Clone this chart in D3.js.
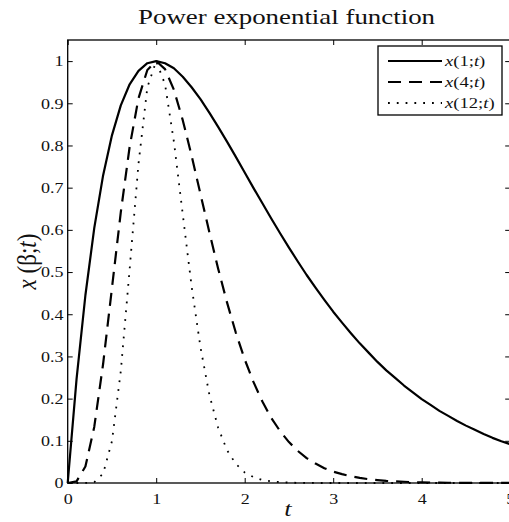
<!DOCTYPE html>
<html>
<head>
<meta charset="utf-8">
<script src="https://cdn.jsdelivr.net/npm/d3@7"></script>
<style>
  body { margin: 0; background: #fff; }
  svg { display: block; font-family: "Liberation Serif", "Times New Roman", serif; }
  .axis path, .axis line { stroke: #000; }
  .axis text { font-size: 15px; fill: #111; font-family: "Liberation Serif", serif; }
</style>
</head>
<body>
<div id="chart"></div>
<script>
// sample times
const tVals = [0, 0.1, 0.2, 0.3, 0.4, 0.5, 0.6, 0.7, 0.8, 0.9, 1.0,
  1.1, 1.2, 1.3, 1.4, 1.5, 1.6, 1.7, 1.8, 1.9, 2.0,
  2.1, 2.2, 2.3, 2.4, 2.5, 2.6, 2.7, 2.8, 2.9, 3.0,
  3.1, 3.2, 3.3, 3.4, 3.5, 3.6, 3.7, 3.8, 3.9, 4.0,
  4.1, 4.2, 4.3, 4.4, 4.5, 4.6, 4.7, 4.8, 4.9, 5.0];

// x(1;t)
const beta1 = [0, 0.246, 0.445, 0.604, 0.729, 0.824, 0.895, 0.945, 0.977, 0.995, 1.0,
  0.995, 0.983, 0.963, 0.938, 0.910, 0.878, 0.844, 0.809, 0.773, 0.736,
  0.699, 0.663, 0.627, 0.592, 0.558, 0.525, 0.493, 0.463, 0.434, 0.406,
  0.380, 0.355, 0.331, 0.309, 0.287, 0.267, 0.249, 0.231, 0.215, 0.199,
  0.185, 0.171, 0.159, 0.147, 0.136, 0.126, 0.116, 0.107, 0.099, 0.092];

// x(4;t)
const beta4 = [0, 0.004, 0.039, 0.133, 0.282, 0.462, 0.642, 0.797, 0.912, 0.979, 1.0,
  0.981, 0.932, 0.860, 0.776, 0.685, 0.595, 0.508, 0.428, 0.356, 0.293,
  0.239, 0.193, 0.154, 0.123, 0.097, 0.076, 0.059, 0.046, 0.035, 0.027,
  0.021, 0.016, 0.012, 0.009, 0.007, 0.005, 0.004, 0.003, 0.002, 0.0016,
  0.0012, 0.0009, 0.0006, 0.0005, 0.0003, 0.0002, 0.0002, 0.0001, 0.0001, 0.0001];

// x(12;t)
const beta12 = [0, 0, 0.0001, 0.002, 0.022, 0.099, 0.265, 0.507, 0.757, 0.938, 1.0,
  0.945, 0.809, 0.637, 0.466, 0.322, 0.210, 0.131, 0.078, 0.045, 0.025,
  0.014, 0.007, 0.004, 0.002, 0.001, 0.0004, 0.0002, 0.0001, 0, 0,
  0, 0, 0, 0, 0, 0, 0, 0, 0, 0,
  0, 0, 0, 0, 0, 0, 0, 0, 0, 0];

const xTicks = [0, 1, 2, 3, 4, 5];
const yTicks = [0, 0.1, 0.2, 0.3, 0.4, 0.5, 0.6, 0.7, 0.8, 0.9, 1];

const seriesList = [
  {name: '1', values: beta1, dash: null, width: 2.2},
  {name: '4', values: beta4, dash: '13,8', width: 2.2},
  {name: '12', values: beta12, dash: '1.8,7', width: 1.8}
];

// the reference figure is stretched sideways a little, so text is too
const stretch = 1.2;

const W = 509, H = 522;
const margin = {top: 40, right: -1.2, bottom: 39, left: 67.7};
const width = W - margin.left - margin.right,
  height = H - margin.top - margin.bottom;

const x = d3.scaleLinear().domain([0, 5]).range([0, width]);
const y = d3.scaleLinear().domain([0, 1.05]).range([height, 0]);

const svgTop = d3.select('#chart').append('svg')
  .attr('width', W)
  .attr('height', H);

const svg = svgTop.append('g')
  .attr('transform', `translate(${margin.left},${margin.top})`);

// axes box
svg.append('rect')
  .attr('width', width)
  .attr('height', height)
  .attr('fill', 'none')
  .attr('stroke', '#000')
  .attr('stroke-width', 1.3);

svg.append('g')
  .attr('class', 'axis')
  .attr('transform', `translate(0,${height})`)
  .call(d3.axisBottom(x).tickValues(xTicks).tickSize(-5).tickPadding(10).tickFormat(d3.format('d')))
  .call(g => g.select('.domain').remove())
  .call(g => g.selectAll('.tick text').attr('transform', `scale(${stretch},1)`));

svg.append('g')
  .attr('class', 'axis')
  .call(d3.axisTop(x).tickValues(xTicks).tickSize(-5).tickFormat(''))
  .call(g => g.select('.domain').remove());

svg.append('g')
  .attr('class', 'axis')
  .call(d3.axisLeft(y).tickValues(yTicks).tickSize(-5).tickPadding(3.5).tickFormat(d => d3.format('')(d)))
  .call(g => g.select('.domain').remove())
  .call(g => g.selectAll('.tick text').attr('transform', `scale(${stretch},1)`));

svg.append('g')
  .attr('class', 'axis')
  .attr('transform', `translate(${width},0)`)
  .call(d3.axisRight(y).tickValues(yTicks).tickSize(-5).tickFormat(''))
  .call(g => g.select('.domain').remove());

// curves
const line = d3.line()
  .x((d, i) => x(tVals[i]))
  .y(d => y(d));

svg.selectAll('.curve')
  .data(seriesList)
  .enter().append('path')
    .attr('class', 'curve')
    .attr('d', d => line(d.values))
    .attr('fill', 'none')
    .attr('stroke', '#000')
    .attr('stroke-width', d => d.width)
    .attr('stroke-dasharray', d => d.dash)
    .attr('stroke-linejoin', 'round');

// title
svgTop.append('text')
  .attr('x', 138)
  .attr('y', 24)
  .attr('font-size', 21)
  .attr('textLength', 297)
  .attr('lengthAdjust', 'spacingAndGlyphs')
  .attr('fill', '#111')
  .text('Power exponential function');

// x label
svgTop.append('text')
  .attr('transform', `translate(288,516) scale(${stretch},1)`)
  .attr('text-anchor', 'middle')
  .attr('font-size', 22)
  .attr('font-style', 'italic')
  .attr('fill', '#111')
  .text('t');

// y label
const yl = svgTop.append('text')
  .attr('transform', `translate(36,${margin.top + height / 2}) scale(${stretch},1) rotate(-90)`)
  .attr('text-anchor', 'middle')
  .attr('font-size', 23)
  .attr('fill', '#111');
yl.append('tspan').attr('font-style', 'italic').text('x');
yl.append('tspan').text(' (β;');
yl.append('tspan').attr('font-style', 'italic').text('t');
yl.append('tspan').text(')');

// legend
const legend = svgTop.append('g')
  .attr('class', 'legend')
  .attr('transform', 'translate(378,46)');

legend.append('rect')
  .attr('width', 124)
  .attr('height', 69)
  .attr('fill', '#fff')
  .attr('stroke', '#000')
  .attr('stroke-width', 1.3);

const rows = legend.selectAll('.legend-line')
  .data(seriesList)
  .enter().append('g')
    .attr('class', 'legend-line')
    .attr('transform', (d, i) => `translate(0, ${15 + 21 * i})`);

rows.append('line')
  .attr('x1', 10)
  .attr('x2', 64)
  .attr('stroke', '#000')
  .attr('stroke-width', d => d.width)
  .attr('stroke-dasharray', d => d.dash);

const lt = rows.append('text')
  .attr('transform', `translate(67,5) scale(${stretch},1)`)
  .attr('font-size', 15.5)
  .attr('fill', '#111');
lt.append('tspan').attr('font-style', 'italic').text('x');
lt.append('tspan').text(d => `(${d.name};`);
lt.append('tspan').attr('font-style', 'italic').text('t');
lt.append('tspan').text(')');
</script>
</body>
</html>
